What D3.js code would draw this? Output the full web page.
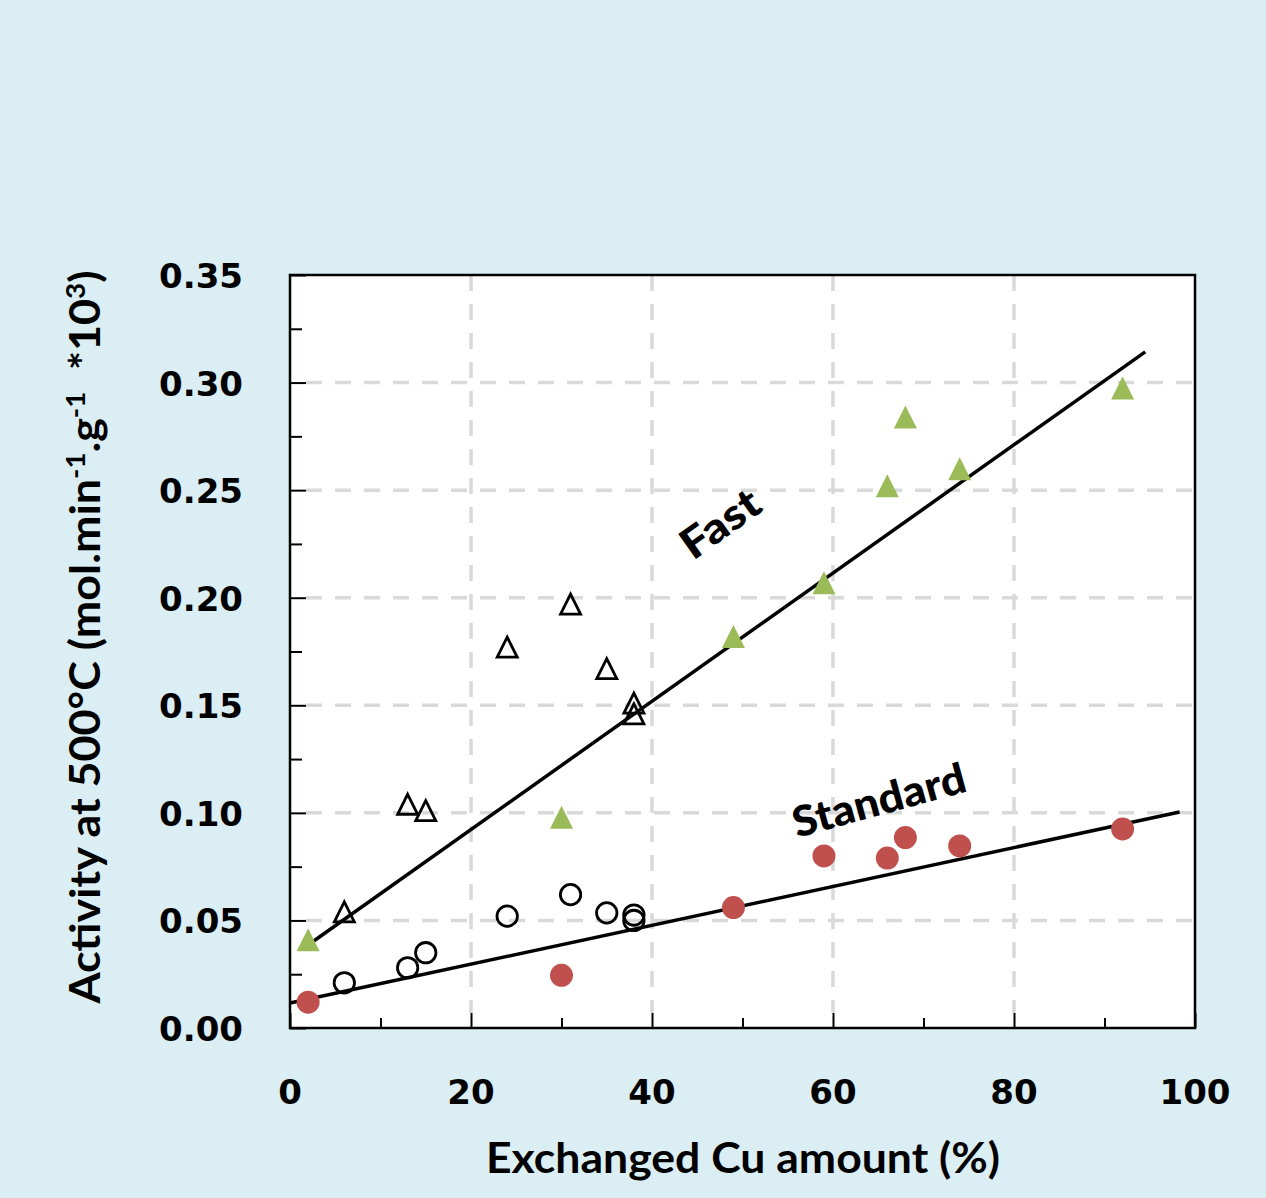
<!DOCTYPE html>
<html><head><meta charset="utf-8">
<script src="https://cdn.jsdelivr.net/npm/d3@7"></script>
<style>
html,body{margin:0;padding:0;background:#daeef3;}
svg{display:block;}
</style></head>
<body>
<script>
// ---- data ----
const xTicks = [0, 20, 40, 60, 80, 100];
const yTicks = [0, 0.05, 0.10, 0.15, 0.20, 0.25, 0.30, 0.35];

const openTriX = [6, 13, 15, 24, 31, 35, 38, 38];
const openTriY = [0.054, 0.104, 0.101, 0.177, 0.197, 0.167, 0.151, 0.146];

const openCircX = [6, 13, 15, 24, 31, 35, 38, 38];
const openCircY = [0.021, 0.028, 0.035, 0.052, 0.062, 0.0535, 0.0525, 0.050];

const greenTriX = [2, 30, 49, 59, 66, 68, 74, 92];
const greenTriY = [0.041, 0.098, 0.182, 0.207, 0.252, 0.284, 0.260, 0.2975];

const redCircX = [2, 30, 49, 59, 66, 68, 74, 92];
const redCircY = [0.012, 0.0245, 0.056, 0.080, 0.079, 0.0885, 0.0846, 0.0925];

const fastLineX = [2, 94.5];
const fastLineY = [0.0386, 0.3143];
const stdLineX = [0, 98.3];
const stdLineY = [0.0116, 0.1004];

// ---- layout ----
const W = 1266, H = 1198;
const L = 290, R = 1195, T = 275, B = 1028;

const svg = d3.select("body").append("svg").attr("width", W).attr("height", H);
svg.append("rect").attr("width", W).attr("height", H).attr("fill", "#daeef3");

const x = d3.scaleLinear().domain([0, 100]).range([L, R]);
const y = d3.scaleLinear().domain([0, 0.35]).range([B, T]);

svg.append("rect").attr("x", L).attr("y", T).attr("width", R - L).attr("height", B - T).attr("fill", "#fff");

// grid
const grid = svg.append("g").attr("stroke", "#d9d9d9").attr("stroke-width", 3.5).attr("stroke-dasharray", "16,13");
grid.selectAll("line.h").data(yTicks.filter(v => v > 0 && v < 0.35)).join("line").attr("class","h")
  .attr("x1", L + 16).attr("x2", R).attr("y1", d => y(d)).attr("y2", d => y(d));
grid.selectAll("line.v").data(xTicks.filter(v => v > 0 && v < 100)).join("line").attr("class","v")
  .attr("y1", T).attr("y2", B - 15).attr("x1", d => x(d)).attr("x2", d => x(d));

// axes (ticks inside)
const font = "'DejaVu Sans', sans-serif";
const xAxis = d3.axisBottom(x).tickValues(d3.range(0, 101, 10)).tickSize(0).tickFormat("");
const yAxis = d3.axisLeft(y).tickValues(d3.range(0, 0.351, 0.025)).tickSize(0).tickFormat("");
const gx = svg.append("g").attr("transform", `translate(0,${B})`).call(xAxis);
gx.select(".domain").remove();
gx.selectAll(".tick line").attr("y2", d => (Math.round(d) % 20 === 0 ? -15 : -10)).attr("stroke", "#000").attr("stroke-width", 2);
const gy = svg.append("g").attr("transform", `translate(${L},0)`).call(yAxis);
gy.select(".domain").remove();
gy.selectAll(".tick line").attr("x2", (d, i) => (i % 2 === 0 ? 16 : 12)).attr("stroke", "#000").attr("stroke-width", 2);

// tick labels
svg.append("g").selectAll("text").data(xTicks).join("text")
  .attr("x", d => x(d)).attr("y", 1104).attr("text-anchor", "middle")
  .attr("font-family", font).attr("font-weight", "bold").attr("font-size", 34).attr("fill", "#000")
  .text(d => d);
svg.append("g").selectAll("text").data(yTicks).join("text")
  .attr("x", 243).attr("y", d => y(d) + 13).attr("text-anchor", "end")
  .attr("font-family", font).attr("font-weight", "bold").attr("font-size", 34).attr("fill", "#000")
  .text(d => d.toFixed(2));

// border
svg.append("rect").attr("x", L).attr("y", T).attr("width", R - L).attr("height", B - T)
  .attr("fill", "none").attr("stroke", "#000").attr("stroke-width", 2.5);

// fit lines
const line = d3.line().x(d => x(d[0])).y(d => y(d[1]));
svg.append("path").datum(d3.zip(fastLineX, fastLineY)).attr("d", line).attr("stroke", "#000").attr("stroke-width", 3.5).attr("fill", "none");
svg.append("path").datum(d3.zip(stdLineX, stdLineY)).attr("d", line).attr("stroke", "#000").attr("stroke-width", 3.5).attr("fill", "none");

// markers: isosceles triangle w x h centred
const triPath = (w, h) => `M0,${-h / 2}L${w / 2},${h / 2}L${-w / 2},${h / 2}Z`;
svg.append("g").selectAll("path").data(d3.zip(greenTriX, greenTriY)).join("path")
  .attr("d", triPath(23, 23)).attr("transform", d => `translate(${x(d[0])},${y(d[1])})`).attr("fill", "#9bbb59");
svg.append("g").selectAll("circle").data(d3.zip(redCircX, redCircY)).join("circle")
  .attr("cx", d => x(d[0])).attr("cy", d => y(d[1])).attr("r", 11.5).attr("fill", "#c0504d");
svg.append("g").selectAll("path").data(d3.zip(openTriX, openTriY)).join("path")
  .attr("d", triPath(20, 20)).attr("transform", d => `translate(${x(d[0])},${y(d[1])})`)
  .attr("fill", "none").attr("stroke", "#000").attr("stroke-width", 2.8).attr("stroke-linejoin", "miter");
svg.append("g").selectAll("circle").data(d3.zip(openCircX, openCircY)).join("circle")
  .attr("cx", d => x(d[0])).attr("cy", d => y(d[1])).attr("r", 10.2).attr("fill", "none").attr("stroke", "#000").attr("stroke-width", 2.8);

// annotations
const tfont = "Lato, 'Open Sans', sans-serif";
svg.append("text").attr("transform", "translate(693,561) rotate(-35.5)")
  .attr("font-family", tfont).attr("font-weight", "900").attr("font-size", 42)
  .attr("textLength", 88).attr("lengthAdjust", "spacingAndGlyphs").text("Fast");
svg.append("text").attr("transform", "translate(797,838) rotate(-15.3)")
  .attr("font-family", tfont).attr("font-weight", "900").attr("font-size", 42)
  .attr("textLength", 178).attr("lengthAdjust", "spacingAndGlyphs").text("Standard");

// axis titles
svg.append("text").attr("x", 743).attr("y", 1173).attr("text-anchor", "middle")
  .attr("font-family", tfont).attr("font-weight", "bold").attr("font-size", 42)
  .attr("textLength", 514).attr("lengthAdjust", "spacingAndGlyphs")
  .text("Exchanged Cu amount (%)");

const yt = svg.append("text").attr("transform", "translate(100,637) rotate(-90)")
  .attr("text-anchor", "middle").attr("font-family", tfont).attr("font-weight", "bold").attr("font-size", 42)
  .attr("textLength", 733).attr("lengthAdjust", "spacingAndGlyphs")
  .style("white-space", "pre");
yt.append("tspan").text("Activity at 500°C (mol.min");
yt.append("tspan").attr("dy", -15).attr("font-size", 26).text("-1");
yt.append("tspan").attr("dy", 15).text(".g");
yt.append("tspan").attr("dy", -15).attr("font-size", 26).text("-1");
yt.append("tspan").attr("dy", 15).text("  *10");
yt.append("tspan").attr("dy", -15).attr("font-size", 26).text("3");
yt.append("tspan").attr("dy", 15).text(")");
</script>
</body></html>
